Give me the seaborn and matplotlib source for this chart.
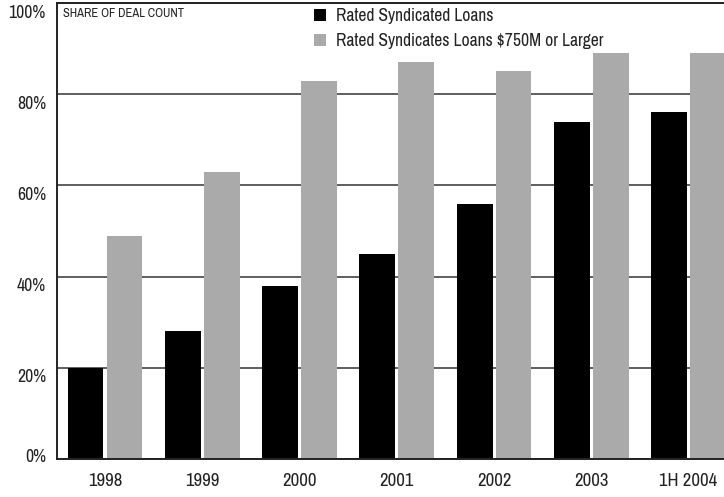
import matplotlib
matplotlib.use("Agg")
import matplotlib.pyplot as plt
import matplotlib.transforms as mtransforms
import pandas as pd
import seaborn as sns

periods = ["1998", "1999", "2000", "2001", "2002", "2003", "1H 2004"]
rated_loans = [20, 28, 38, 45, 56, 74, 76]
large_loans = [49, 63, 83, 87, 85, 89, 89]
series_names = ["Rated Syndicated Loans", "Rated Syndicates Loans $750M or Larger"]
y_ticks = [0, 20, 40, 60, 80, 100]
y_tick_labels = ["0%", "20%", "40%", "60%", "80%", "100%"]

df = pd.DataFrame({
    "period": periods * 2,
    "share": rated_loans + large_loans,
    "series": [series_names[0]] * len(periods) + [series_names[1]] * len(periods),
})

sns.set_style("white")
plt.rcParams["font.family"] = ["Archivo Narrow", "DejaVu Sans"]
text_color = "#222222"

W, H = 724, 497
fig = plt.figure(figsize=(W / 100, H / 100), dpi=100)
ax = fig.add_axes([57 / W, 1 - 459 / H, 1 - 57 / W, (459 - 3) / H])

sns.barplot(
    data=df, x="period", y="share", hue="series", order=periods,
    hue_order=series_names, palette=["#000000", "#aaaaaa"],
    width=0.8, gap=0.08, linewidth=0, saturation=1, ax=ax,
)

ax.set_xlim(-0.494, 6.364)
ax.set_ylim(0, 100)
ax.set_yticks(y_ticks)
ax.set_yticklabels(y_tick_labels)
ax.set_xlabel("")
ax.set_ylabel("")

ax.set_axisbelow(True)
ax.yaxis.grid(True, color="#333333", linewidth=1.1)
ax.xaxis.grid(False)

for side in ["left", "top", "bottom"]:
    ax.spines[side].set_visible(True)
    ax.spines[side].set_color("#222222")
    ax.spines[side].set_linewidth(1.4)
ax.spines["right"].set_visible(False)

ax.tick_params(axis="both", length=0, colors=text_color)
ax.tick_params(axis="y", pad=8, labelsize=12.8)
ax.tick_params(axis="x", pad=10, labelsize=13.5)

# value labels sit a little below their gridline
for lab in ax.get_yticklabels():
    dy = 3 if lab.get_text() == "0%" else -8
    lab.set_transform(lab.get_transform() + mtransforms.ScaledTranslation(0, dy / 100, fig.dpi_scale_trans))

ax.text(63 / W, 1 - 13.5 / H, "SHARE OF DEAL COUNT", transform=fig.transFigure,
        fontsize=9, color=text_color, va="center", ha="left")

handles, labels = ax.get_legend_handles_labels()
ax.legend(
    handles, labels, loc="upper left", frameon=False,
    bbox_to_anchor=(314 / W, 1 - 8 / H), bbox_transform=fig.transFigure,
    borderpad=0, borderaxespad=0, handlelength=0.7, handleheight=0.7,
    handletextpad=0.55, labelspacing=0.5, fontsize=12.6, labelcolor=text_color,
)

fig.savefig("out.png", dpi=100)
